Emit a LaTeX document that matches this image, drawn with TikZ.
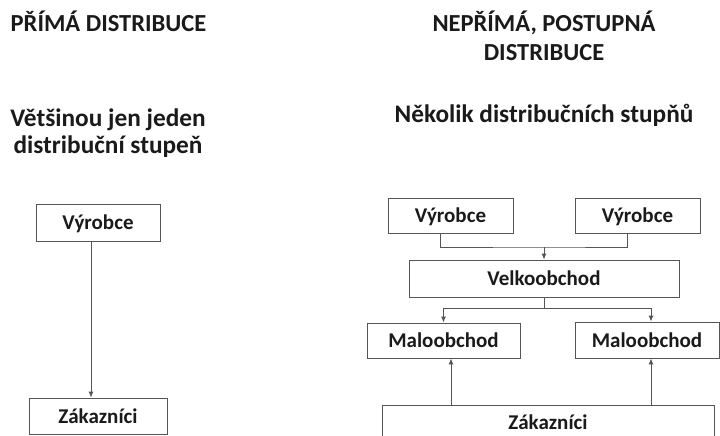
\documentclass[tikz,border=0pt]{standalone}
\usepackage{fontspec}
\setmainfont{Carlito}
\usetikzlibrary{arrows.meta}
\definecolor{ink}{HTML}{1A1A1A}
\definecolor{edge}{HTML}{555555}
\begin{document}
\begin{tikzpicture}[x=1pt,y=-1pt,
  txt/.style={font=\fontsize{24.5}{28}\selectfont\bfseries,text=ink,inner sep=0pt},
  sub/.style={font=\fontsize{25.3}{29}\selectfont\bfseries,text=ink,inner sep=0pt},
  box/.style={draw=edge,line width=0.9pt,fill=white,font=\fontsize{21}{25}\selectfont\bfseries,text=ink,inner sep=0pt,text height=14pt,text depth=0pt},
  conn/.style={draw=edge,line width=0.9pt},
  arr/.style={conn,-{Latex[length=6pt,width=5pt]}}]
\useasboundingbox (0,0) rectangle (720,436);
\clip (0,0) rectangle (720,436);
% titles
\node[txt,anchor=base] (t1) at (108.5,32) {PŘÍMÁ DISTRIBUCE};
\node[txt,anchor=base] (t2a) at (544,32) {NEPŘÍMÁ, POSTUPNÁ};
\node[txt,anchor=base] (t2b) at (544,61) {DISTRIBUCE};
\node[sub,anchor=base] (s1a) at (108,126) {Většinou jen jeden};
\node[sub,anchor=base] (s1b) at (108,153) {distribuční stupeň};
\node[sub,anchor=base] (s2) at (544,122) {Několik distribučních stupňů};
% left
\node[box,minimum width=124pt,minimum height=37pt] (LV) at (98,222.5) {Výrobce};
\node[box,minimum width=138pt,minimum height=36pt] (LZ) at (98,416) {Zákazníci};
\draw[arr] ([xshift=-7pt]LV.south) -- ([xshift=-7pt]LV.south |- LZ.north);
% right
\node[box,minimum width=125pt,minimum height=35pt] (RV1) at (450.5,215.5) {Výrobce};
\node[box,minimum width=125pt,minimum height=35pt] (RV2) at (637.5,215.5) {Výrobce};
\node[box,minimum width=270pt,minimum height=37pt] (VO) at (544,278.5) {Velkoobchod};
\node[box,minimum width=153pt,minimum height=35pt] (M1) at (443.5,340.5) {Maloobchod};
\node[box,minimum width=144pt,minimum height=36pt] (M2) at (647,340) {Maloobchod};
\node[box,minimum width=332pt,minimum height=35pt] (RZ) at (548,422.5) {Zákazníci};
\coordinate (j1) at (544,247);
\coordinate (j2) at (544,308);
\draw[conn] ([xshift=-10.5pt]RV1.south) |- (j1) -| ([xshift=-10.5pt]RV2.south);
\draw[arr] (j1) -- (VO.north);
\draw[conn] (VO.south) -- (j2);
\draw[arr] (j2) -| (M1.north);
\draw[arr] (j2) -| ([xshift=4pt]M2.north);
\draw[arr] (RZ.north -| 451,0) -- (M1.south -| 451,0);
\draw[arr] (RZ.north -| 651,0) -- ([xshift=4pt]M2.south);
\end{tikzpicture}
\end{document}
